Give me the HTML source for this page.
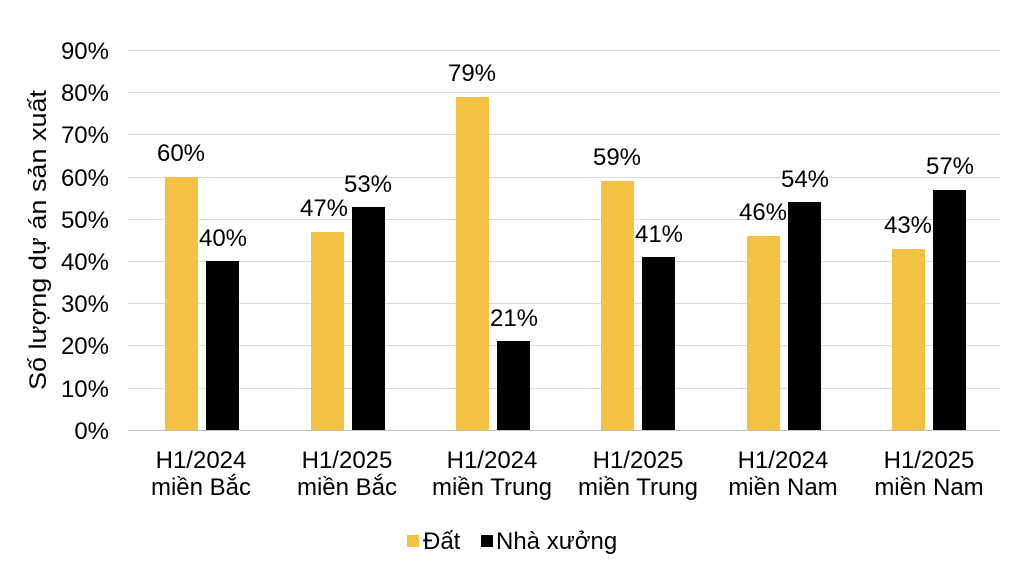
<!DOCTYPE html>
<html><head><meta charset="utf-8"><style>body{margin:0;background:#fff}svg{display:block}text{font-family:"Liberation Sans",sans-serif;fill:#000}</style></head>
<body>
<svg width="1024" height="586" viewBox="0 0 1024 586">
<g stroke="#d9d9d9" stroke-width="1">
<line x1="128" x2="1000" y1="50.5" y2="50.5"/><line x1="128" x2="1000" y1="92.5" y2="92.5"/><line x1="128" x2="1000" y1="134.5" y2="134.5"/><line x1="128" x2="1000" y1="177.5" y2="177.5"/><line x1="128" x2="1000" y1="219.5" y2="219.5"/><line x1="128" x2="1000" y1="261.5" y2="261.5"/><line x1="128" x2="1000" y1="303.5" y2="303.5"/><line x1="128" x2="1000" y1="345.5" y2="345.5"/><line x1="128" x2="1000" y1="388.5" y2="388.5"/>
</g>
<line x1="128" x2="1000" y1="430.5" y2="430.5" stroke="#bfbfbf"/>
<g font-size="24" text-anchor="end">
<text x="109" y="59">90%</text><text x="109" y="101">80%</text><text x="109" y="143">70%</text><text x="109" y="186">60%</text><text x="109" y="228">50%</text><text x="109" y="270">40%</text><text x="109" y="312">30%</text><text x="109" y="354">20%</text><text x="109" y="397">10%</text><text x="109" y="439">0%</text>
</g>
<text transform="translate(46,240) rotate(-90)" font-size="24" text-anchor="middle" textLength="300" lengthAdjust="spacingAndGlyphs">Số lượng dự án sản xuất</text>
<g>
<rect x="165" y="177" width="33" height="253" style="fill:#f4c242"/>
<rect x="311" y="232" width="33" height="198" style="fill:#f4c242"/>
<rect x="456" y="97" width="33" height="333" style="fill:#f4c242"/>
<rect x="601" y="181" width="33" height="249" style="fill:#f4c242"/>
<rect x="747" y="236" width="33" height="194" style="fill:#f4c242"/>
<rect x="892" y="249" width="33" height="181" style="fill:#f4c242"/>
</g>
<g>
<rect x="206" y="261" width="33" height="169"/>
<rect x="352" y="207" width="33" height="223"/>
<rect x="497" y="341" width="33" height="89"/>
<rect x="642" y="257" width="33" height="173"/>
<rect x="788" y="202" width="33" height="228"/>
<rect x="933" y="190" width="33" height="240"/>
</g>
<g font-size="24" text-anchor="middle">
<text x="181" y="161">60%</text><text x="223" y="246">40%</text>
<text x="324" y="216">47%</text><text x="368" y="192">53%</text>
<text x="472" y="81">79%</text><text x="514" y="326">21%</text>
<text x="617" y="165">59%</text><text x="659" y="242">41%</text>
<text x="763" y="220">46%</text><text x="805" y="187">54%</text>
<text x="908" y="233">43%</text><text x="950" y="174">57%</text>
</g>
<g font-size="24" text-anchor="middle">
<text x="201" y="468">H1/2024</text><text x="201" y="495">miền Bắc</text>
<text x="347" y="468">H1/2025</text><text x="347" y="495">miền Bắc</text>
<text x="492" y="468">H1/2024</text><text x="492" y="495">miền Trung</text>
<text x="638" y="468">H1/2025</text><text x="638" y="495">miền Trung</text>
<text x="783" y="468">H1/2024</text><text x="783" y="495">miền Nam</text>
<text x="929" y="468">H1/2025</text><text x="929" y="495">miền Nam</text>
</g>
<rect x="407" y="535" width="12" height="12" style="fill:#f4c242"/>
<text x="423" y="549" font-size="24">Đất</text>
<rect x="481" y="535" width="12" height="12"/>
<text x="496" y="549" font-size="24">Nhà xưởng</text>
</svg>
</body></html>
